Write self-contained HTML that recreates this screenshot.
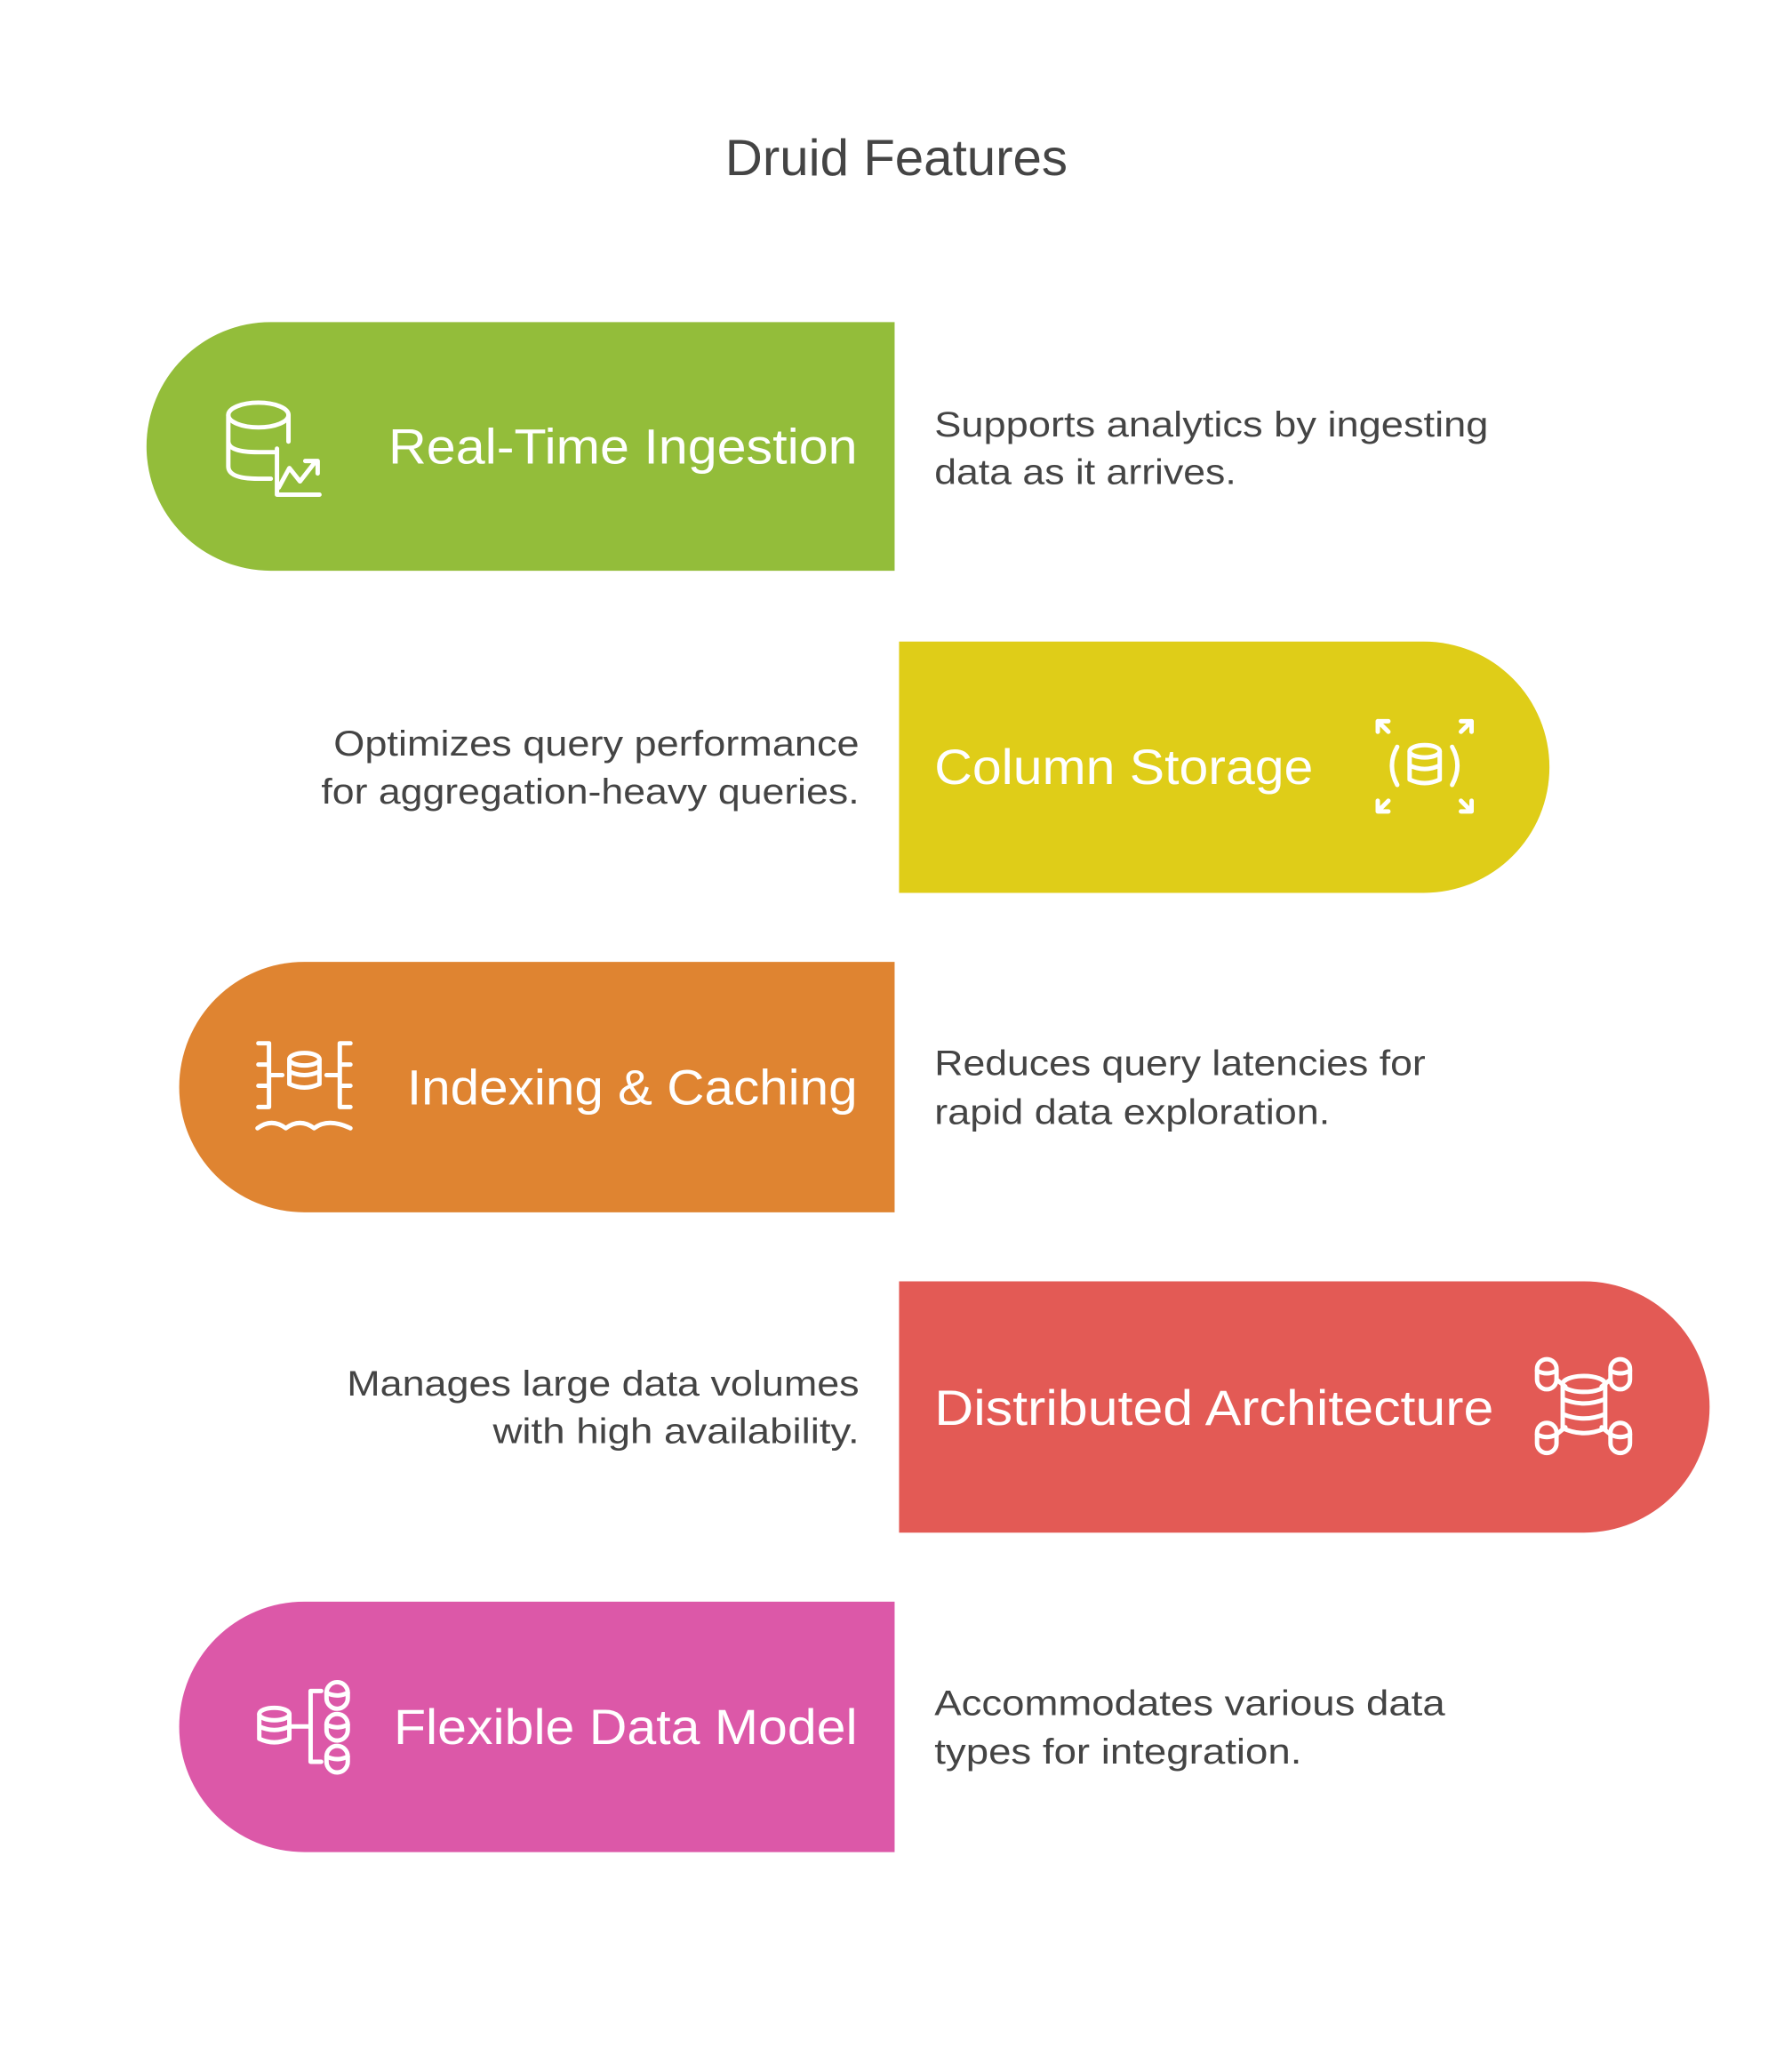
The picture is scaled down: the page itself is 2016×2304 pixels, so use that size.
<!DOCTYPE html>
<html><head><meta charset="utf-8"><style>
html,body{margin:0;padding:0;background:#fff;}
svg{display:block;}
text{font-family:"Liberation Sans",sans-serif;}
.lbl{fill:#fff;font-size:56px;}
.d{fill:#444;font-size:40px;}
.ic{fill:none;stroke:#fff;stroke-width:5;stroke-linecap:round;stroke-linejoin:round;}
</style></head><body>
<svg width="2016" height="2304" viewBox="0 0 2016 2304" xmlns="http://www.w3.org/2000/svg">
<g transform="translate(1,-1) scale(0.9955)">
<text x="1012" y="199" text-anchor="middle" style="fill:#444;font-size:58px" textLength="387" lengthAdjust="spacingAndGlyphs">Druid Features</text>

<path d="M1010 365 V646 H305 A140.5 140.5 0 0 1 305 365 Z" fill="#93bd3a"/>
<text class="lbl" x="438" y="525" textLength="530" lengthAdjust="spacingAndGlyphs">Real-Time Ingestion</text>
<text class="d" x="1055" y="494" textLength="626" lengthAdjust="spacingAndGlyphs">Supports analytics by ingesting</text>
<text class="d" x="1055" y="548" textLength="341" lengthAdjust="spacingAndGlyphs">data as it arrives.</text>
<g class="ic">
<ellipse cx="291" cy="470" rx="34" ry="14"/>
<path d="M257 470 V528 Q257 542 291 542 H305 M257 500 Q257 512 291 512 H310 M325 470 V500"/>
<path d="M312 508 V560 H360 M314 552 L326 530 L338 545 L356 522 M344 522 H358 V536"/>
</g>

<path d="M1015 726 V1010 H1608 A142 142 0 0 0 1608 726 Z" fill="#dfcd18"/>
<text class="lbl" x="1055" y="887" textLength="428" lengthAdjust="spacingAndGlyphs">Column Storage</text>
<text class="d" x="970" y="855" text-anchor="end" textLength="594" lengthAdjust="spacingAndGlyphs">Optimizes query performance</text>
<text class="d" x="970" y="909" text-anchor="end" textLength="608" lengthAdjust="spacingAndGlyphs">for aggregation-heavy queries.</text>
<g class="ic">
<ellipse cx="1609" cy="850" rx="17" ry="7"/>
<path d="M1592 850 V882 Q1609 890 1626 882 V850 M1592 866 Q1609 874 1626 866"/>
<path d="M1578 845 Q1566 866 1578 888 M1640 845 Q1652 866 1640 888"/>
<path d="M1556 816 L1568 828 M1556 816 V828 M1556 816 H1568 M1662 816 L1650 828 M1662 816 V828 M1662 816 H1650 M1556 918 L1568 906 M1556 918 V906 M1556 918 H1568 M1662 918 L1650 906 M1662 918 V906 M1662 918 H1650"/>
</g>

<path d="M1010 1088 V1371 H343 A141.5 141.5 0 0 1 343 1088 Z" fill="#df8431"/>
<text class="lbl" x="459" y="1249" textLength="509" lengthAdjust="spacingAndGlyphs">Indexing &amp; Caching</text>
<text class="d" x="1055" y="1216" textLength="555" lengthAdjust="spacingAndGlyphs">Reduces query latencies for</text>
<text class="d" x="1055" y="1271" textLength="447" lengthAdjust="spacingAndGlyphs">rapid data exploration.</text>
<g class="ic">
<path d="M291 1180 H303 V1252 H291 M291 1204 H303 M291 1228 H303 M303 1216 H318"/>
<ellipse cx="343" cy="1198" rx="17" ry="7"/>
<path d="M326 1198 V1226 Q343 1234 360 1226 V1198 M326 1212 Q343 1220 360 1212"/>
<path d="M395 1180 H383 V1252 H395 M383 1204 H395 M383 1228 H395 M383 1216 H368"/>
<path d="M290 1276 Q306 1264 322 1276 Q338 1264 354 1276 Q370 1264 395 1276"/>
</g>

<path d="M1015 1449 V1733 H1789 A142 142 0 0 0 1789 1449 Z" fill="#e35a55"/>
<text class="lbl" x="1055" y="1611" textLength="632" lengthAdjust="spacingAndGlyphs">Distributed Architecture</text>
<text class="d" x="970" y="1578" text-anchor="end" textLength="579" lengthAdjust="spacingAndGlyphs">Manages large data volumes</text>
<text class="d" x="970" y="1632" text-anchor="end" textLength="414" lengthAdjust="spacingAndGlyphs">with high availability.</text>
<g class="ic">
<rect x="1736" y="1537" width="22" height="34" rx="11"/>
<rect x="1819" y="1537" width="22" height="34" rx="11"/>
<rect x="1736" y="1609" width="22" height="34" rx="11"/>
<rect x="1819" y="1609" width="22" height="34" rx="11"/>
<path d="M1736 1550 Q1747 1556 1758 1550 M1819 1550 Q1830 1556 1841 1550 M1736 1622 Q1747 1628 1758 1622 M1819 1622 Q1830 1628 1841 1622"/>
<ellipse cx="1789" cy="1565" rx="24" ry="9"/>
<path d="M1765 1565 V1615 Q1789 1626 1813 1615 V1565 M1765 1582 Q1789 1592 1813 1582 M1765 1599 Q1789 1609 1813 1599"/>
<path d="M1758 1560 L1768 1568 M1819 1560 L1809 1568 M1758 1622 L1768 1614 M1819 1622 L1809 1614"/>
</g>

<path d="M1010 1811 V2094 H343 A141.5 141.5 0 0 1 343 1811 Z" fill="#dc58a8"/>
<text class="lbl" x="444" y="1972" textLength="524" lengthAdjust="spacingAndGlyphs">Flexible Data Model</text>
<text class="d" x="1055" y="1939" textLength="577" lengthAdjust="spacingAndGlyphs">Accommodates various data</text>
<text class="d" x="1055" y="1994" textLength="415" lengthAdjust="spacingAndGlyphs">types for integration.</text>
<g class="ic">
<ellipse cx="309" cy="1938" rx="17" ry="7"/>
<path d="M292 1938 V1966 Q309 1974 326 1966 V1938 M292 1952 Q309 1960 326 1952"/>
<path d="M326 1952 H350 M362 1912 H350 V1992 H362"/>
<rect x="368" y="1902" width="24" height="30" rx="12"/>
<rect x="368" y="1938" width="24" height="30" rx="12"/>
<rect x="368" y="1974" width="24" height="30" rx="12"/>
<path d="M368 1914 Q380 1920 392 1914 M368 1950 Q380 1956 392 1950 M368 1986 Q380 1992 392 1986"/>
</g>
</g>
</svg>
</body></html>
